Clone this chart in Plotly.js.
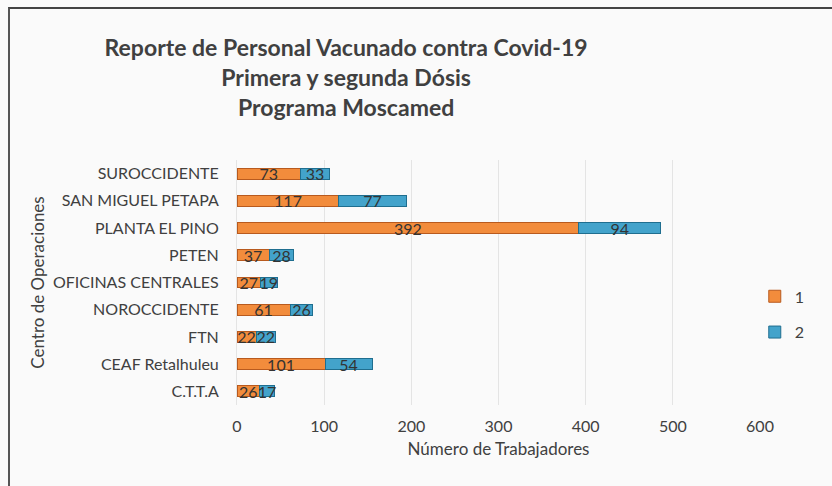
<!DOCTYPE html>
<html>
<head>
<meta charset="utf-8">
<script src="https://cdn.plot.ly/plotly-3.0.1.min.js"></script>
<style>
  html, body { margin: 0; padding: 0; background: #fafafa; }
  #wrap { position: relative; width: 832px; height: 486px; overflow: hidden; }
  #chart { position: absolute; left: 0; top: 0; width: 832px; height: 486px; }
  #frame { position: absolute; left: 8px; top: 7px; width: 830px; height: 490px;
           border-top: 2px solid #444; border-left: 2px solid #555; pointer-events: none; }
</style>
</head>
<body>
<div id="wrap">
  <div id="chart"></div>
  <div id="frame"></div>
</div>
<script>
// Categories listed bottom-to-top (Plotly draws the first category at the bottom)
const centros = ["C.T.T.A", "CEAF Retalhuleu", "FTN", "NOROCCIDENTE", "OFICINAS CENTRALES",
                 "PETEN", "PLANTA EL PINO", "SAN MIGUEL PETAPA", "SUROCCIDENTE"];
const dosis1 = [26, 101, 22, 61, 27, 37, 392, 117, 73];
const dosis2 = [17, 54, 22, 26, 19, 28, 94, 77, 33];
const xTicks = [0, 100, 200, 300, 400, 500, 600];

const FONT = "Lato, 'Open Sans', sans-serif";
const TXT = "#404040";
const FS = 16;

const traces = [
  {
    type: "bar", orientation: "h", name: "1", legendgroup: "g1",
    y: centros, x: dosis1,
    text: dosis1.map(String), textposition: "inside", insidetextanchor: "middle",
    constraintext: "none", textangle: 0, cliponaxis: false,
    textfont: { family: FONT, size: FS, color: "#333333" },
    marker: { color: "#F28C3C", line: { color: "#B85A1E", width: 1 } }
  },
  {
    type: "bar", orientation: "h", name: "2", legendgroup: "g2",
    y: centros, x: dosis2,
    text: dosis2.map(String), textposition: "inside", insidetextanchor: "middle",
    constraintext: "none", textangle: 0, cliponaxis: false,
    textfont: { family: FONT, size: FS, color: "#333333" },
    marker: { color: "#43A3CB", line: { color: "#1F6E8F", width: 1 } }
  }
];

const layout = {
  width: 832, height: 486,
  paper_bgcolor: "rgba(0,0,0,0)", plot_bgcolor: "rgba(0,0,0,0)",
  font: { family: FONT, color: TXT, size: FS },
  barmode: "stack", bargap: 0.6,
  margin: { l: 237, r: 72, t: 160, b: 81 },
  title: {
    text: "Reporte de Personal Vacunado contra Covid-19<br>Primera y segunda Dósis<br>Programa Moscamed",
    font: { family: FONT, size: 23, color: TXT, weight: "bold" },
    xref: "container", x: 0.416, xanchor: "center",
    yref: "container", y: 0.885, yanchor: "top"
  },
  xaxis: {
    range: [0, 600], tickvals: xTicks, ticktext: xTicks.map(String),
    showgrid: true, gridcolor: "#e4e4e4", gridwidth: 1,
    zeroline: false, showline: false,
    ticks: "outside", ticklen: 7, tickcolor: "rgba(0,0,0,0)",
    tickfont: { family: FONT, size: FS, color: TXT },
    title: { text: "Número de Trabajadores", font: { family: FONT, size: 17, color: TXT }, standoff: 8 }
  },
  yaxis: {
    type: "category", showgrid: false, zeroline: false,
    showline: true, linecolor: "#e4e4e4",
    ticks: "outside", ticklen: 14, tickcolor: "rgba(0,0,0,0)",
    tickfont: { family: FONT, size: FS, color: TXT },
    title: { text: "Centro de Operaciones", font: { family: FONT, size: 17, color: TXT }, standoff: 3 }
  },
  showlegend: true,
  legend: {
    x: 0.99, xanchor: "left", y: 0.37, yanchor: "middle",
    traceorder: "grouped", tracegroupgap: 12,
    font: { family: FONT, size: FS, color: TXT },
    itemwidth: 30, bgcolor: "rgba(0,0,0,0)"
  }
};

Plotly.newPlot("chart", traces, layout, { displayModeBar: false, staticPlot: true });
</script>
</body>
</html>
